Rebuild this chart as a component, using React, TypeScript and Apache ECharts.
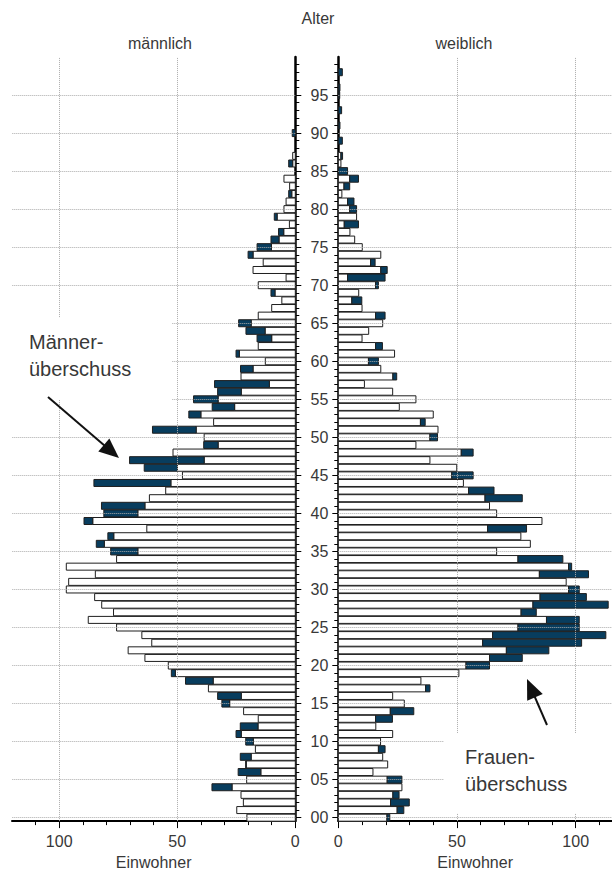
import { useEffect, useRef } from "react";
import * as echarts from "echarts";

// Einwohner je Altersjahr (0 … 99)
const male = [
  20.5, 24.8, 22, 23, 35.3, 20.6, 24.2, 21, 23.3, 16.9,
  21, 25.1, 23.3, 15.7, 21.9, 31.1, 32.9, 36.8, 46.5, 52.5,
  53.8, 63.7, 70.8, 60.8, 65, 75.7, 87.7, 77, 82, 85,
  97, 96, 84.7, 97, 75.7, 78.2, 84.3, 79.4, 62.9, 89.5,
  81.1, 82.1, 61.8, 54.9, 85.3, 47.8, 64, 70.2, 51.8, 38.8,
  38.6, 60.5, 34.6, 45.1, 35.2, 43.1, 32.9, 34.2, 23, 23.2,
  12.7, 25.1, 15.7, 16.2, 20.9, 24, 15.7, 10, 5.7, 10.3,
  15.7, 3.9, 17.9, 13.6, 20, 16.2, 10.3, 7.1, 2.5, 8.9,
  4.8, 3.9, 2.8, 2.4, 4.8, 0, 2.8, 1.1, 0, 0,
  1.3, 0, 0, 0, 0, 0, 0, 0, 0, 0,
];

const female = [
  21.7, 27.6, 29.9, 25.6, 26.8, 26.8, 14.6, 20.8, 18.7, 19.7,
  17.8, 22.9, 15.8, 22.8, 31.8, 27.8, 22.9, 38.6, 34.8, 50.8,
  63.7, 77.5, 88.7, 102.5, 112.7, 101.5, 101.5, 83.4, 113.7, 104.5,
  101.5, 96, 105.4, 98.3, 94.6, 66.7, 80.9, 76.9, 79.3, 85.8,
  66.7, 63.7, 77.5, 65.6, 52.7, 56.8, 49.9, 38.6, 56.8, 32.7,
  41.8, 42, 36.6, 40, 25.7, 32.7, 22.9, 11, 24.6, 17.9,
  16.9, 23.7, 18.6, 10, 12.8, 18.7, 19.7, 10, 9.9, 8.6,
  16.9, 19.7, 20.6, 15.5, 17.9, 10.1, 6.9, 4.9, 8.5, 7.7,
  7.7, 6.6, 1.5, 4.8, 8.5, 3.9, 1.1, 1.8, 0, 1.7,
  0, 0.7, 0, 1.4, 0, 0.6, 0.7, 0, 1.7, 0,
];

const ages = male.map((_, i) => i);
const ageLabelTicks = [0, 5, 10, 15, 20, 25, 30, 35, 40, 45, 50, 55, 60, 65, 70, 75, 80, 85, 90, 95];
const countLabelTicks = [0, 50, 100];
const countMinorTicks = [0, 10, 20, 30, 40, 50, 60, 70, 80, 90, 100, 110];

const FONT = "'Liberation Sans', Arial, Helvetica, sans-serif";
const TEXT = "#383838";
const NAVY = "#083d5e";
const EDGE = "#1f1f1f";
const GRIDLINE = "#ababab";

// [age, shared part (min of both sexes), own value]
const sideData = (own: number[], other: number[]) =>
  ages.map((a) => [a, Math.min(own[a], other[a]), own[a]]);

const renderBar = (_params: any, api: any) => {
  const age = api.value(0);
  const common = api.value(1);
  const own = api.value(2);
  const base = api.coord([0, age]);
  const mid = api.coord([common, age]);
  const end = api.coord([own, age]);
  const h = api.size([0, 1])[1] * 0.92;
  const y = base[1] - h / 2;
  const children: any[] = [];
  if (common > 0) {
    children.push({
      type: "rect",
      shape: { x: Math.min(base[0], mid[0]), y, width: Math.abs(mid[0] - base[0]), height: h },
      style: { fill: "#ffffff", stroke: EDGE, lineWidth: 1 },
    });
  }
  if (own > common) {
    children.push({
      type: "rect",
      shape: { x: Math.min(mid[0], end[0]), y, width: Math.abs(end[0] - mid[0]), height: h },
      style: { fill: NAVY, stroke: EDGE, lineWidth: 1 },
    });
  }
  return { type: "group", children };
};

const arrowHead = (x1: number, y1: number, x2: number, y2: number, len: number, half: number) => {
  const dx = x2 - x1;
  const dy = y2 - y1;
  const d = Math.hypot(dx, dy);
  const ux = dx / d;
  const uy = dy / d;
  const bx = x2 - ux * len;
  const by = y2 - uy * len;
  return [
    [x2, y2],
    [bx - uy * half, by + ux * half],
    [bx + uy * half, by - ux * half],
  ];
};

const arrow = (x1: number, y1: number, x2: number, y2: number) => {
  const d = Math.hypot(x2 - x1, y2 - y1);
  return [
    {
      type: "line",
      z: 20,
      shape: { x1, y1, x2: x2 - ((x2 - x1) / d) * 10, y2: y2 - ((y2 - y1) / d) * 10 },
      style: { stroke: "#111", lineWidth: 2 },
    },
    {
      type: "polygon",
      z: 20,
      shape: { points: arrowHead(x1, y1, x2, y2, 20, 8.5) },
      style: { fill: "#111" },
    },
  ];
};

const label = (text: string, x: number, y: number, size: number, align = "center") => ({
  type: "text",
  z: 20,
  style: {
    text,
    x,
    y,
    fill: TEXT,
    font: `${size}px ${FONT}`,
    textAlign: align,
    textVerticalAlign: "middle",
  },
});

const Y_MIN = -0.45;
const Y_MAX = 100;

const countAxis = (gridIndex: number, inverse: boolean, max: number, major: boolean) => ({
  type: "value",
  gridIndex,
  inverse,
  min: 0,
  max,
  position: "bottom",
  axisLine: { show: major, onZero: false, lineStyle: { color: "#000", width: 2 } },
  axisTick: {
    show: true,
    length: major ? 7 : 4,
    customValues: major ? countLabelTicks : countMinorTicks,
    lineStyle: { color: "#000", width: 1 },
  },
  axisLabel: {
    show: major,
    customValues: countLabelTicks,
    margin: 12,
    color: TEXT,
    fontSize: 16,
    fontFamily: FONT,
  },
  splitLine: { show: false },
  name: major ? "Einwohner" : "",
  nameLocation: "middle",
  nameGap: 31,
  nameTextStyle: { color: TEXT, fontSize: 16, fontFamily: FONT },
});

const ageAxis = (gridIndex: number, position: string, major: boolean, withLabels: boolean) => ({
  type: "value",
  gridIndex,
  min: Y_MIN,
  max: Y_MAX,
  position,
  axisLine: { show: major, onZero: false, lineStyle: { color: "#000", width: 2.5 } },
  axisTick: {
    show: true,
    length: major ? 6 : 4,
    customValues: major ? ageLabelTicks : ages,
    lineStyle: { color: "#000", width: 1 },
  },
  axisLabel: {
    show: withLabels,
    customValues: ageLabelTicks,
    formatter: (v: number) => String(v).padStart(2, "0"),
    margin: 10,
    color: TEXT,
    fontSize: 16,
    fontFamily: FONT,
  },
  splitLine: { show: false },
});

const gridLines = (xAxisIndex: number, yAxisIndex: number) => ({
  type: "line",
  xAxisIndex,
  yAxisIndex,
  data: [[0, 0]],
  showSymbol: false,
  lineStyle: { opacity: 0 },
  silent: true,
  z: 1,
  markLine: {
    silent: true,
    symbol: ["none", "none"],
    label: { show: false },
    lineStyle: { type: "dotted", color: GRIDLINE, width: 1 },
    data: [
      ...ageLabelTicks.map((v) => ({ yAxis: v })),
      { xAxis: 50 },
      { xAxis: 100 },
    ],
  },
});

export default function App() {
  const ref = useRef<HTMLDivElement>(null);

  useEffect(() => {
    if (!ref.current) return;
    const chart = echarts.init(ref.current, null, { renderer: "svg" });
    chart.setOption({
      animation: false,
      backgroundColor: "#ffffff",
      grid: [
        { left: 12, right: 316.7, top: 57, bottom: 49 },
        { left: 338.3, right: 0, top: 57, bottom: 49 },
      ],
      xAxis: [
        countAxis(0, true, 120, true),
        countAxis(0, true, 120, false),
        countAxis(1, false, 115.3, true),
        countAxis(1, false, 115.3, false),
      ],
      yAxis: [
        ageAxis(0, "right", true, false),
        ageAxis(0, "right", false, false),
        ageAxis(1, "left", true, true),
        ageAxis(1, "left", false, false),
      ],
      series: [
        gridLines(0, 0),
        gridLines(2, 2),
        {
          name: "männlich",
          type: "custom",
          xAxisIndex: 0,
          yAxisIndex: 0,
          z: 3,
          renderItem: renderBar,
          encode: { x: [1, 2], y: 0 },
          data: sideData(male, female),
        },
        {
          name: "weiblich",
          type: "custom",
          xAxisIndex: 2,
          yAxisIndex: 2,
          z: 3,
          renderItem: renderBar,
          encode: { x: [1, 2], y: 0 },
          data: sideData(female, male),
        },
      ],
      graphic: [
        label("Alter", 318, 18, 16),
        label("männlich", 160, 43, 16),
        label("weiblich", 464, 43, 16),
        { type: "rect", z: 15, shape: { x: 12, y: 318, width: 160, height: 82 }, style: { fill: "#ffffff" } },
        { type: "rect", z: 15, shape: { x: 444, y: 733, width: 168, height: 80 }, style: { fill: "#ffffff" } },
        label("Männer-", 29, 342, 20, "left"),
        label("überschuss", 29, 369, 20, "left"),
        label("Frauen-", 465, 757, 20, "left"),
        label("überschuss", 465, 784, 20, "left"),
        ...arrow(48, 397, 119, 458),
        ...arrow(547, 725, 527, 679),
      ],
    });
    return () => chart.dispose();
  }, []);

  return (
    <div
      ref={ref}
      style={{ position: "fixed", left: 0, top: 0, width: 612, height: 875, background: "#fff" }}
    />
  );
}
